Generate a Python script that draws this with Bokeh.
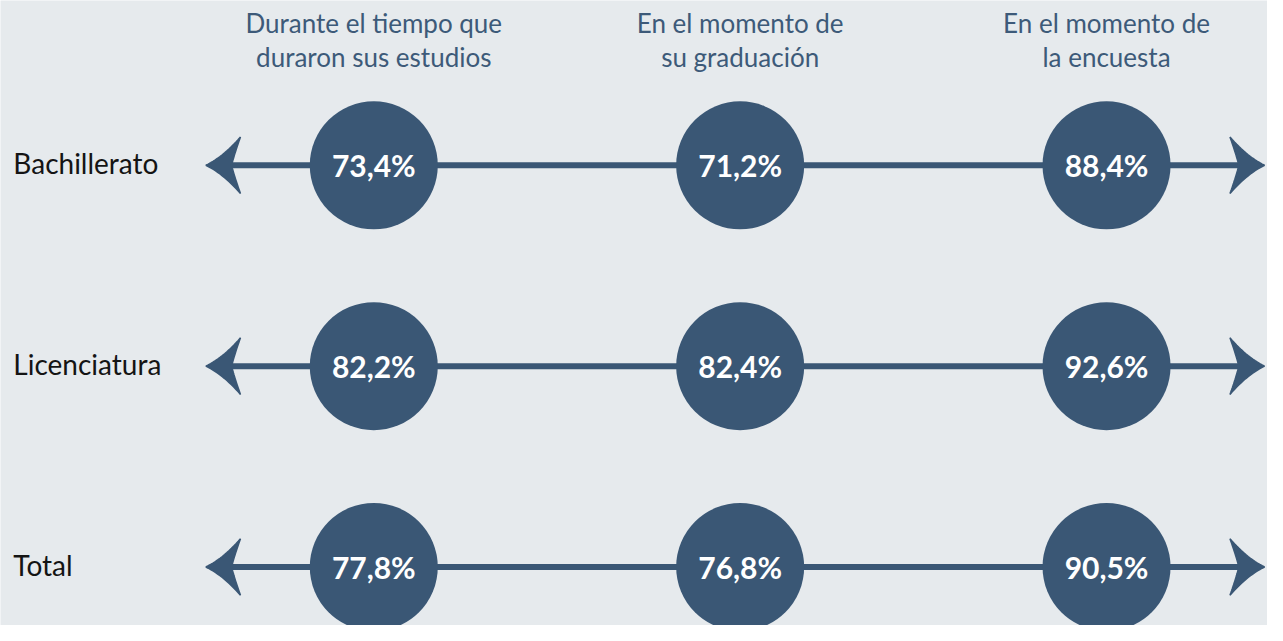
import numpy as np
from bokeh.plotting import figure
from bokeh.models import Range1d, ColumnDataSource
from bokeh.core.properties import value
from bokeh.embed import file_html
from bokeh.resources import INLINE

# ---- data ----
columns = ["Durante el tiempo que\nduraron sus estudios",
           "En el momento de\nsu graduación",
           "En el momento de\nla encuesta"]
rows = ["Bachillerato", "Licenciatura", "Total"]
bachillerato = [73.4, 71.2, 88.4]
licenciatura = [82.2, 82.4, 92.6]
total = [77.8, 76.8, 90.5]
series = [bachillerato, licenciatura, total]

# ---- style ----
BG = "#e6eaed"
DARK = "#3a5775"
HEAD = "#3d5a79"
FONT = "Lato"
W, H = 1267, 625
FX, FY = W / 1283.0, H / 641.0
PXX, PXY = 371.0 * FX, 206.0 * FY  # pixels per data unit

xs0 = -378.0 * FX / PXX
ys0 = -169.0 * FY / PXY
p = figure(width=W, height=H, output_backend="svg", toolbar_location=None,
           x_range=Range1d(xs0, xs0 + W / PXX),
           y_range=Range1d(ys0 + H / PXY, ys0),
           min_border=0, outline_line_color=None,
           background_fill_color=BG, border_fill_color=BG)
p.axis.visible = False
p.grid.visible = False

ncol = len(columns)
left_tip = 0 - 170 / 371.0
right_tip = (ncol - 1) + 160 / 371.0
notch = 26


def qbez(p0, c, p1, n=16):
    t = np.linspace(0, 1, n)[:, None]
    p0, c, p1 = map(np.array, (p0, c, p1))
    return (1 - t) ** 2 * p0 + 2 * (1 - t) * t * c + t ** 2 * p1


shape = np.vstack([
    qbez((0, 0), (18, -9), (35, -29)),
    qbez((35, -29), (29, -12), (notch, 0)),
    qbez((notch, 0), (29, 12), (35, 29)),
    qbez((35, 29), (18, 9), (0, 0)),
])

arrow_xs, arrow_ys = [], []
seg = dict(x0=[], x1=[], y=[])
for ri in range(len(rows)):
    arrow_xs.append(list(left_tip + shape[:, 0] / 371.0))
    arrow_ys.append(list(ri + shape[:, 1] / 206.0))
    arrow_xs.append(list(right_tip - shape[:, 0] / 371.0))
    arrow_ys.append(list(ri + shape[:, 1] / 206.0))
    seg["x0"].append(left_tip + (notch - 2) / 371.0)
    seg["x1"].append(right_tip - (notch - 2) / 371.0)
    seg["y"].append(ri)

p.segment(x0="x0", x1="x1", y0="y", y1="y", source=ColumnDataSource(seg),
          line_color=DARK, line_width=6)
p.patches(arrow_xs, arrow_ys, fill_color=DARK, line_color=DARK, line_width=1.5)

# circles and values
cx, cy, lab = [], [], []
for ri, vals in enumerate(series):
    for ci, v in enumerate(vals):
        cx.append(ci)
        cy.append(ri)
        lab.append(f"{v:.1f}".replace(".", ",") + "%")
src = ColumnDataSource(dict(x=cx, y=cy, t=lab))
p.scatter("x", "y", source=src, size=128, fill_color=DARK, line_color=None)
p.text("x", "y", text="t", source=src, text_color="white",
       text_font=value(FONT), text_font_style="bold", text_font_size="30px",
       text_align="center", text_baseline="middle")

# column headers
p.text(list(range(ncol)), [0] * ncol, text=columns, y_offset=-125,
       text_color=HEAD, text_font=value(FONT), text_font_size="26px",
       text_align="center", text_baseline="middle", text_line_height=1.05)

# row labels
p.text([xs0 + 13 * FX / PXX] * len(rows), list(range(len(rows))), text=rows,
       y_offset=-2,
       text_color="#141414", text_font=value(FONT), text_font_size="28px",
       text_align="left", text_baseline="middle")

open("out.html", "w").write(file_html(p, INLINE))
